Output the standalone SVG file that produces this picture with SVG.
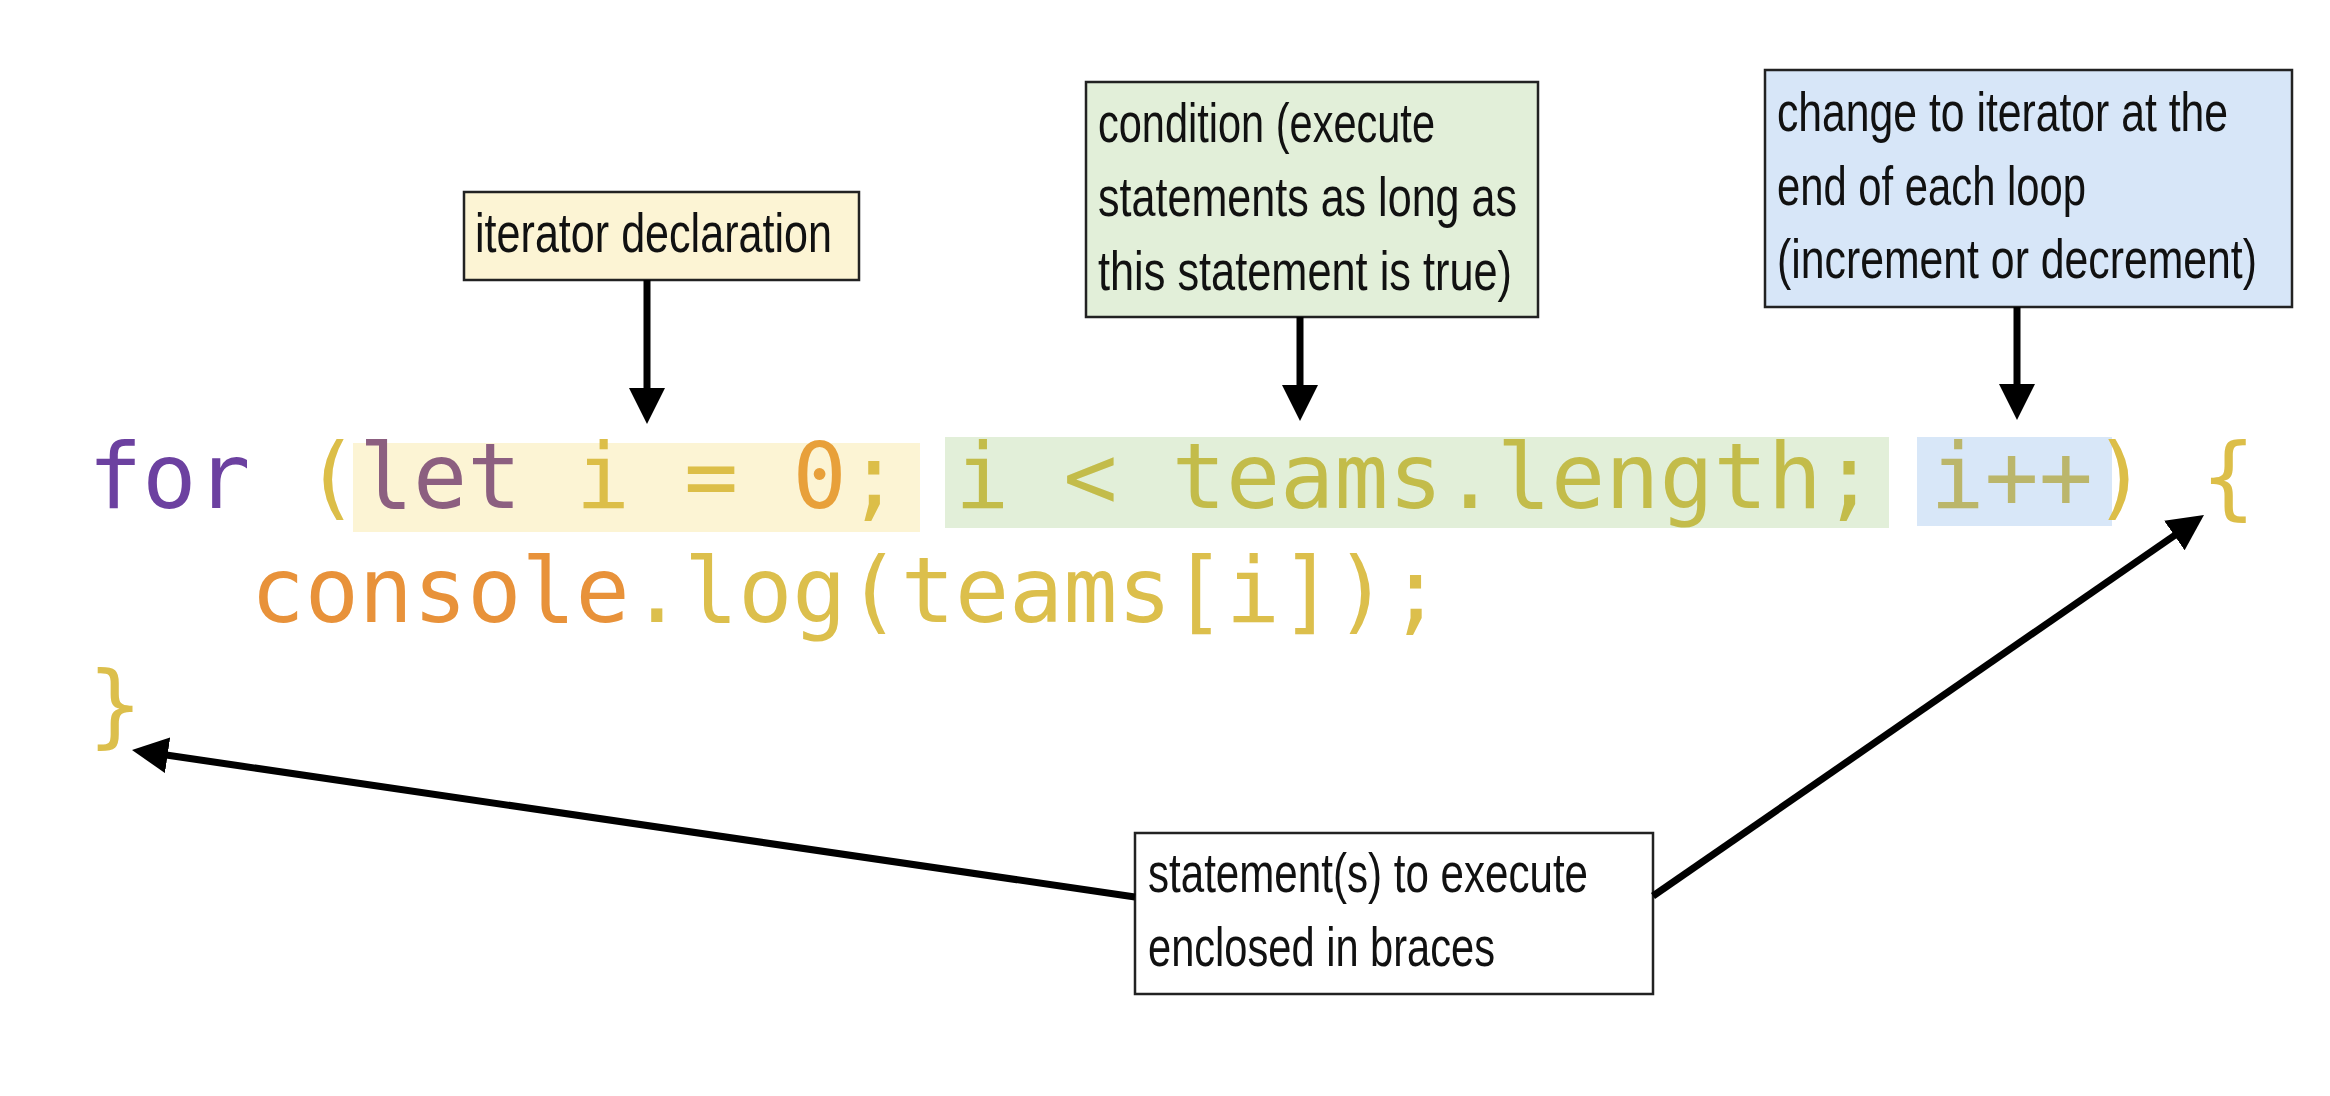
<svg xmlns="http://www.w3.org/2000/svg" width="2330" height="1096" viewBox="0 0 2330 1096">
<style>
.box{stroke:#222;stroke-width:2.5}
.lbl{font-family:"Liberation Sans Narrow","Liberation Sans",Arial,sans-serif;font-size:56px;fill:#111}
.code{font-family:"DejaVu Sans Mono","Liberation Mono",monospace;font-size:90px}
.arr{stroke:#000;stroke-width:7;fill:none;marker-end:url(#ah)}
</style>
<defs>
<marker id="ah" markerUnits="userSpaceOnUse" viewBox="0 0 36 36" markerWidth="36" markerHeight="36" refX="10" refY="18" orient="auto">
<path d="M0,0 L36,18 L0,36 z" fill="#000"/>
</marker>
</defs>
<rect x="0" y="0" width="2330" height="1096" fill="#fff"/>

<g id="code">
<rect x="353" y="443" width="567" height="89" fill="#FCF4D4"/>
<rect x="945" y="437" width="944" height="91" fill="#E2EFD9"/>
<rect x="1917" y="437" width="195" height="89" fill="#D8E7F8"/>
<text class="code" x="88" y="508" xml:space="preserve"><tspan fill="#6C41A0">for</tspan><tspan fill="#DCBE48"> (</tspan><tspan fill="#8C5F80">let</tspan><tspan fill="#DCBE48"> i = </tspan><tspan fill="#E8A03A">0</tspan><tspan fill="#DCBE48">; </tspan><tspan fill="#C3BC4A">i &lt; teams.length; </tspan><tspan fill="#BBB66B">i++</tspan><tspan fill="#DCBE48">) {</tspan></text>
<text class="code" x="250.5" y="622" xml:space="preserve"><tspan fill="#E8923A">console</tspan><tspan fill="#DCBF4C">.log(teams[i]);</tspan></text>
<text class="code" x="88" y="736" fill="#DCBF4C">}</text>
</g>

<g id="box-iterator">
<rect class="box" x="464" y="192" width="395" height="88" fill="#FCF4D4"/>
<text class="lbl" x="475" y="252" textLength="357" lengthAdjust="spacingAndGlyphs">iterator declaration</text>
</g>

<g id="box-condition">
<rect class="box" x="1086" y="82" width="452" height="235" fill="#E2EFD9"/>
<text class="lbl" x="1098" y="142" textLength="337" lengthAdjust="spacingAndGlyphs">condition (execute</text>
<text class="lbl" x="1098" y="216" textLength="419" lengthAdjust="spacingAndGlyphs">statements as long as</text>
<text class="lbl" x="1098" y="290" textLength="414" lengthAdjust="spacingAndGlyphs">this statement is true)</text>
</g>

<g id="box-change">
<rect class="box" x="1765" y="70" width="527" height="237" fill="#D7E6F8"/>
<text class="lbl" x="1777" y="131" textLength="451" lengthAdjust="spacingAndGlyphs">change to iterator at the</text>
<text class="lbl" x="1777" y="205" textLength="309" lengthAdjust="spacingAndGlyphs">end of each loop</text>
<text class="lbl" x="1777" y="278" textLength="480" lengthAdjust="spacingAndGlyphs">(increment or decrement)</text>
</g>

<g id="box-statements">
<rect class="box" x="1135" y="833" width="518" height="161" fill="#fff"/>
<text class="lbl" x="1148" y="892" textLength="440" lengthAdjust="spacingAndGlyphs">statement(s) to execute</text>
<text class="lbl" x="1148" y="966" textLength="347" lengthAdjust="spacingAndGlyphs">enclosed in braces</text>
</g>

<g id="connectors">
<line class="arr" x1="647" y1="280" x2="647" y2="398"/>
<line class="arr" x1="1300" y1="317" x2="1300" y2="395"/>
<line class="arr" x1="2017" y1="307" x2="2017" y2="394"/>
<line class="arr" x1="1135" y1="897" x2="157.7" y2="753.8"/>
<line class="arr" x1="1653" y1="896" x2="2182.6" y2="529.8"/>
</g>
</svg>
